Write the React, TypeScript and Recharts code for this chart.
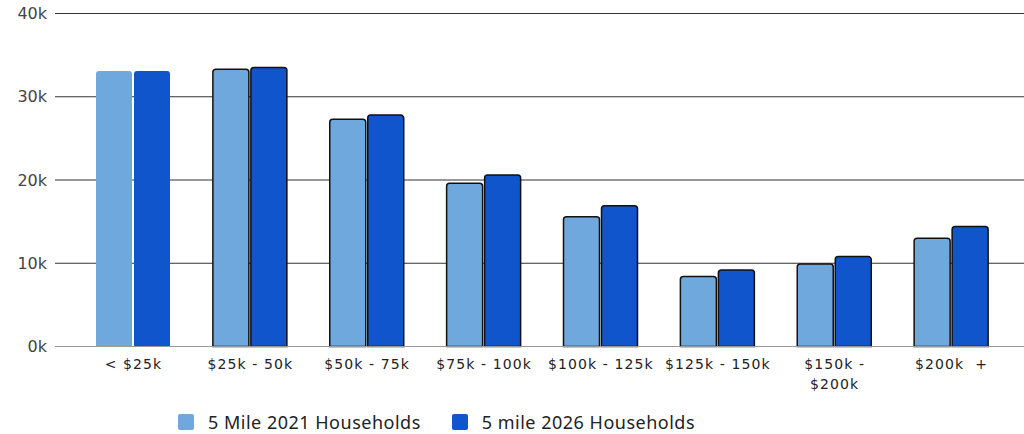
import React from "react";
import { BarChart, Bar, XAxis, YAxis, CartesianGrid, Cell } from "recharts";

const categories = [
  "< $25k",
  "$25k - 50k",
  "$50k - 75k",
  "$75k - 100k",
  "$100k - 125k",
  "$125k - 150k",
  "$150k -\n$200k",
  "$200k  +",
];
const households2021 = [33100, 33300, 27300, 19600, 15600, 8400, 9900, 13000];
const households2026 = [33100, 33500, 27800, 20600, 16900, 9200, 10800, 14400];
const yTicks = [0, 10000, 20000, 30000, 40000];
const seriesNames = ["5 Mile 2021 Households", "5 mile 2026 Households"];
const seriesColors = ["#6fa8dc", "#1155cc"];

const data = categories.map((c, i) => ({
  category: c,
  h2021: households2021[i],
  h2026: households2026[i],
}));

const XTick = (props: any) => {
  const { x, y, payload } = props;
  const lines = String(payload.value).split("\n");
  return (
    <text
      x={x}
      y={y}
      textAnchor="middle"
      fill="#222"
      fontSize={14}
      fontFamily="'DejaVu Sans', Verdana, sans-serif"
      letterSpacing={1.1}
      style={{ whiteSpace: "pre" }}
    >
      {lines.map((l, i) => (
        <tspan key={i} x={x} dy={i === 0 ? 14 : 20}>
          {l}
        </tspan>
      ))}
    </text>
  );
};

export default function App() {
  return (
    <div style={{ position: "absolute", left: 0, top: 0, width: 1024, height: 434, background: "#fff" }}>
      <BarChart
        width={1024}
        height={434}
        data={data}
        margin={{ top: 13.5, right: 0, left: 0, bottom: 47.5 }}
        barSize={36}
        barGap={2}
      >
        <CartesianGrid vertical={false} stroke="#333" strokeWidth={1} />
        <YAxis
          width={55}
          domain={[0, 40000]}
          ticks={yTicks}
          tickLine={false}
          axisLine={false}
          tickFormatter={(v: number) => `${v / 1000}k`}
          tick={{ fill: "#444", fontSize: 16, fontFamily: "'DejaVu Sans', sans-serif" }}
        />
        <XAxis
          dataKey="category"
          interval={0}
          tickLine={false}
          axisLine={{ stroke: "#999", strokeWidth: 1 }}
          padding={{ left: 20, right: 14 }}
          height={40}
          tick={<XTick />}
        />
        <Bar dataKey="h2021" name={seriesNames[0]} fill={seriesColors[0]} radius={[3, 3, 0, 0]} isAnimationActive={false}>
          {data.map((d, i) => (
            <Cell key={i} stroke={i === 0 ? "none" : "#111"} strokeWidth={1.5} />
          ))}
        </Bar>
        <Bar dataKey="h2026" name={seriesNames[1]} fill={seriesColors[1]} radius={[3, 3, 0, 0]} isAnimationActive={false}>
          {data.map((d, i) => (
            <Cell key={i} stroke={i === 0 ? "none" : "#111"} strokeWidth={1.5} />
          ))}
        </Bar>
      </BarChart>
      <div
        style={{
          position: "absolute",
          left: 178,
          top: 410,
          display: "flex",
          alignItems: "center",
          fontFamily: "'Noto Sans', sans-serif",
          fontSize: 18,
          letterSpacing: 0.5,
          color: "#222",
          whiteSpace: "nowrap",
        }}
      >
        {seriesNames.map((n, i) => (
          <div key={n} style={{ display: "flex", alignItems: "center", marginRight: 31 }}>
            <span
              style={{
                display: "inline-block",
                width: 16,
                height: 16,
                background: seriesColors[i],
                borderRadius: 2,
                marginRight: 14,
              }}
            />
            <span>{n}</span>
          </div>
        ))}
      </div>
    </div>
  );
}
